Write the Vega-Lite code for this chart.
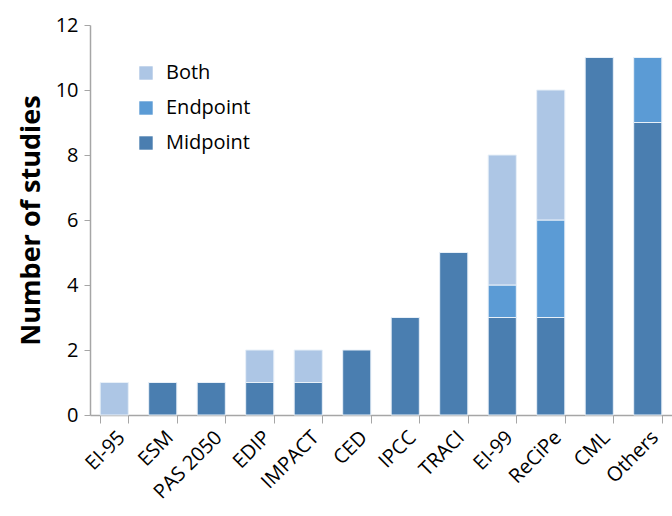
{
  "$schema": "https://vega.github.io/schema/vega-lite/v6.json",
  "width": 582,
  "height": 390,
  "autosize": {"type": "none"},
  "padding": {"left": 90, "top": 25, "right": 0, "bottom": 101},
  "background": "#ffffff",
  "config": {
    "view": {"stroke": null},
    "font": "Open Sans"
  },
  "data": {
    "values": [
      {"method": "EI-95", "type": "Both", "n": 1, "rank": 3},
      {"method": "ESM", "type": "Midpoint", "n": 1, "rank": 1},
      {"method": "PAS 2050", "type": "Midpoint", "n": 1, "rank": 1},
      {"method": "EDIP", "type": "Midpoint", "n": 1, "rank": 1},
      {"method": "EDIP", "type": "Both", "n": 1, "rank": 3},
      {"method": "IMPACT", "type": "Midpoint", "n": 1, "rank": 1},
      {"method": "IMPACT", "type": "Both", "n": 1, "rank": 3},
      {"method": "CED", "type": "Midpoint", "n": 2, "rank": 1},
      {"method": "IPCC", "type": "Midpoint", "n": 3, "rank": 1},
      {"method": "TRACI", "type": "Midpoint", "n": 5, "rank": 1},
      {"method": "EI-99", "type": "Midpoint", "n": 3, "rank": 1},
      {"method": "EI-99", "type": "Endpoint", "n": 1, "rank": 2},
      {"method": "EI-99", "type": "Both", "n": 4, "rank": 3},
      {"method": "ReCiPe", "type": "Midpoint", "n": 3, "rank": 1},
      {"method": "ReCiPe", "type": "Endpoint", "n": 3, "rank": 2},
      {"method": "ReCiPe", "type": "Both", "n": 4, "rank": 3},
      {"method": "CML", "type": "Midpoint", "n": 11, "rank": 1},
      {"method": "Others", "type": "Midpoint", "n": 9, "rank": 1},
      {"method": "Others", "type": "Endpoint", "n": 2, "rank": 2}
    ]
  },
  "mark": {"type": "bar", "stroke": "#e8f0f8", "strokeWidth": 1},
  "encoding": {
    "x": {
      "field": "method",
      "type": "nominal",
      "sort": ["EI-95", "ESM", "PAS 2050", "EDIP", "IMPACT", "CED", "IPCC", "TRACI", "EI-99", "ReCiPe", "CML", "Others"],
      "scale": {"paddingInner": 0.42, "paddingOuter": 0.21},
      "axis": {
        "title": null,
        "labelAngle": -45,
        "labelAlign": "right",
        "labelBaseline": "top",
        "labelFontSize": 20,
        "labelColor": "#000000",
        "labelPadding": 4,
        "domainColor": "#a6a6a6",
        "domainWidth": 1.5,
        "tickColor": "#a6a6a6",
        "tickSize": 8,
        "tickBand": "extent",
        "grid": false
      }
    },
    "y": {
      "field": "n",
      "type": "quantitative",
      "stack": "zero",
      "scale": {"domain": [0, 12], "nice": false},
      "axis": {
        "title": "Number of studies",
        "titleFontSize": 27,
        "titleFontWeight": "bold",
        "titleColor": "#000000",
        "titlePadding": 10,
        "values": [0, 2, 4, 6, 8, 10, 12],
        "labelFontSize": 20,
        "labelColor": "#000000",
        "labelPadding": 6,
        "domainColor": "#a6a6a6",
        "domainWidth": 1.5,
        "tickColor": "#a6a6a6",
        "tickSize": 6,
        "grid": false
      }
    },
    "color": {
      "field": "type",
      "type": "nominal",
      "scale": {
        "domain": ["Both", "Endpoint", "Midpoint"],
        "range": ["#adc6e5", "#5b9bd5", "#4a7eb0"]
      },
      "legend": {
        "title": null,
        "orient": "none",
        "legendX": 46,
        "legendY": 38,
        "symbolType": "square",
        "symbolSize": 180,
        "symbolStrokeWidth": 0,
        "labelFontSize": 20,
        "labelColor": "#000000",
        "labelOffset": 10,
        "rowPadding": 15
      }
    },
    "order": {"field": "rank", "type": "quantitative"}
  }
}
